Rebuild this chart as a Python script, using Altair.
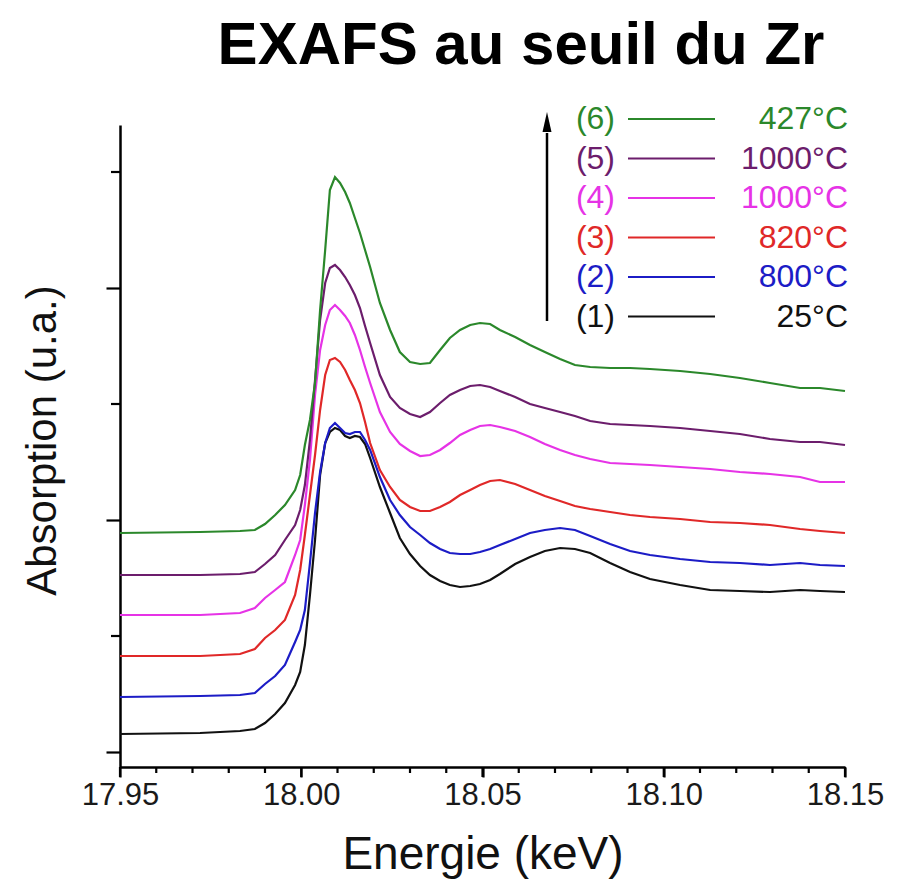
import altair as alt
import pandas as pd

# ---------------- data ----------------
energie_keV = [17.9500, 17.9721, 17.9831, 17.9872, 17.9900, 17.9928, 17.9955, 17.9983,
               17.9997, 18.0010, 18.0024, 18.0038, 18.0052, 18.0066, 18.0079, 18.0093,
               18.0107, 18.0121, 18.0134, 18.0148, 18.0162, 18.0176, 18.0190, 18.0217,
               18.0245, 18.0272, 18.0300, 18.0328, 18.0355, 18.0383, 18.0410, 18.0438,
               18.0466, 18.0493, 18.0521, 18.0548, 18.0590, 18.0631, 18.0672, 18.0714,
               18.0755, 18.0797, 18.0852, 18.0907, 18.0962, 18.1045, 18.1128, 18.1210,
               18.1293, 18.1376, 18.1431, 18.1500]

abs_1 = [0.18, 0.19, 0.21, 0.23, 0.29, 0.38, 0.49, 0.67, 0.80, 1.07, 1.57, 2.12,
         2.77, 3.09, 3.20, 3.24, 3.22, 3.16, 3.14, 3.16, 3.15, 3.08, 2.94, 2.65,
         2.39, 2.14, 1.98, 1.86, 1.77, 1.71, 1.67, 1.65, 1.66, 1.68, 1.72, 1.78,
         1.88, 1.95, 2.01, 2.04, 2.03, 1.99, 1.89, 1.80, 1.73, 1.67, 1.62, 1.61,
         1.60, 1.62, 1.61, 1.60]
abs_2 = [0.55, 0.56, 0.57, 0.59, 0.68, 0.76, 0.87, 1.10, 1.22, 1.42, 1.89, 2.39,
         2.80, 3.09, 3.24, 3.29, 3.24, 3.19, 3.18, 3.20, 3.20, 3.12, 3.02, 2.75,
         2.52, 2.37, 2.25, 2.17, 2.09, 2.03, 1.99, 1.98, 1.98, 2.00, 2.03, 2.07,
         2.13, 2.19, 2.22, 2.24, 2.22, 2.16, 2.08, 2.01, 1.97, 1.93, 1.90, 1.89,
         1.87, 1.89, 1.87, 1.86]
abs_3 = [0.96, 0.96, 0.98, 1.03, 1.14, 1.22, 1.32, 1.57, 1.82, 2.17, 2.57, 2.97,
         3.42, 3.77, 3.92, 3.94, 3.90, 3.82, 3.72, 3.62, 3.49, 3.30, 3.09, 2.82,
         2.65, 2.52, 2.45, 2.41, 2.41, 2.45, 2.50, 2.57, 2.62, 2.67, 2.71, 2.72,
         2.68, 2.62, 2.56, 2.51, 2.46, 2.43, 2.40, 2.37, 2.35, 2.33, 2.30, 2.29,
         2.27, 2.23, 2.21, 2.19]
abs_4 = [1.37, 1.37, 1.39, 1.44, 1.54, 1.62, 1.70, 1.97, 2.12, 2.47, 2.92, 3.57,
         4.02, 4.27, 4.42, 4.47, 4.42, 4.36, 4.29, 4.17, 4.02, 3.85, 3.69, 3.40,
         3.20, 3.08, 3.01, 2.96, 2.97, 3.02, 3.09, 3.17, 3.22, 3.26, 3.27, 3.25,
         3.21, 3.15, 3.08, 3.02, 2.97, 2.93, 2.89, 2.88, 2.87, 2.85, 2.83, 2.80,
         2.78, 2.75, 2.70, 2.70]
abs_5 = [1.77, 1.77, 1.78, 1.80, 1.88, 1.97, 2.12, 2.27, 2.42, 2.67, 3.12, 3.72,
         4.32, 4.69, 4.84, 4.87, 4.82, 4.75, 4.67, 4.57, 4.44, 4.26, 4.09, 3.77,
         3.55, 3.44, 3.38, 3.35, 3.40, 3.49, 3.57, 3.62, 3.66, 3.67, 3.65, 3.61,
         3.55, 3.48, 3.44, 3.40, 3.36, 3.31, 3.28, 3.27, 3.26, 3.24, 3.21, 3.18,
         3.13, 3.10, 3.10, 3.07]
abs_6 = [2.19, 2.20, 2.21, 2.22, 2.28, 2.37, 2.47, 2.62, 2.77, 3.07, 3.32, 3.69,
         4.42, 5.02, 5.62, 5.75, 5.69, 5.60, 5.49, 5.34, 5.19, 5.02, 4.85, 4.49,
         4.22, 4.00, 3.90, 3.88, 3.89, 4.02, 4.14, 4.22, 4.27, 4.29, 4.28, 4.22,
         4.15, 4.07, 4.00, 3.93, 3.87, 3.85, 3.84, 3.84, 3.83, 3.81, 3.78, 3.74,
         3.69, 3.64, 3.64, 3.61]

series_ids = ["1", "2", "3", "4", "5", "6"]
series_labels = ["(1)", "(2)", "(3)", "(4)", "(5)", "(6)"]
temperatures = ["25°C", "800°C", "820°C", "1000°C", "1000°C", "427°C"]
series_colors = ["#111111", "#1c1cc6", "#e02828", "#e633e6", "#6c1d6c", "#2b882b"]

x_major_ticks = [17.95, 18.00, 18.05, 18.10, 18.15]
x_minor_ticks = [17.96, 17.97, 17.98, 17.99, 18.01, 18.02, 18.03, 18.04,
                 18.06, 18.07, 18.08, 18.09, 18.11, 18.12, 18.13, 18.14]
y_major_ticks = [0.0, 2.32, 4.64]
y_minor_ticks = [1.16, 3.48, 5.80]

title_text = "EXAFS au seuil du Zr"
x_title = "Energie (keV)"
y_title = "Absorption (u.a.)"

# ---------------- tables ----------------
curves = [abs_1, abs_2, abs_3, abs_4, abs_5, abs_6]
rows = []
for sid, vals in zip(series_ids, curves):
    for e, a in zip(energie_keV, vals):
        rows.append({"E": e, "A": a, "serie": sid})
df = pd.DataFrame(rows)

legend_df = pd.DataFrame({
    "serie": series_ids,
    "num": series_labels,
    "temp": temperatures,
    "ypx": [-6 + 39.5 * (5 - i) for i in range(6)],
})
xmajor_df = pd.DataFrame({"E": x_major_ticks})
xminor_df = pd.DataFrame({"E": x_minor_ticks})
yminor_df = pd.DataFrame({"A": y_minor_ticks})
one = pd.DataFrame({"k": [0]})

FONT = "Liberation Sans"
color_scale = alt.Scale(domain=series_ids, range=series_colors)
x_scale = alt.Scale(domain=[17.95, 18.15], nice=False, zero=False)
y_scale = alt.Scale(domain=[-0.15, 6.27], nice=False, zero=False)
H = 642

x_axis = alt.Axis(
    values=x_major_ticks, tickSize=10, tickWidth=2.2, tickColor="#000000", format=".2f",
    labelFont=FONT, labelFontSize=31, labelColor="#1a1a1a",
    labelPadding=3, labelOverlap=False, labelFlush=False,
    title=x_title, titleFont=FONT, titleFontSize=46, titleFontWeight="normal",
    titleColor="#111111", titleBaseline="alphabetic", titleY=101,
    grid=False,
)
y_axis = alt.Axis(
    values=y_major_ticks, tickSize=14, tickWidth=2.2, tickColor="#000000", labels=False,
    title=y_title, titleFont=FONT, titleFontSize=42, titleFontWeight="normal",
    titleColor="#111111", titleBaseline="alphabetic", titleAngle=270,
    titleX=-65, titleY=315, titleAlign="center",
    grid=False,
)

lines = alt.Chart(df).mark_line(strokeWidth=2.2).encode(
    x=alt.X("E:Q", scale=x_scale, axis=x_axis),
    y=alt.Y("A:Q", scale=y_scale, axis=y_axis),
    color=alt.Color("serie:N", scale=color_scale, legend=None),
)

leg_num = alt.Chart(legend_df).mark_text(
    font=FONT, fontSize=32, align="right", baseline="middle"
).encode(
    x=alt.value(495),
    y=alt.Y("ypx:Q", scale=None, axis=None),
    text="num:N",
    color=alt.Color("serie:N", scale=color_scale, legend=None),
)
leg_line = alt.Chart(legend_df).mark_rule(strokeWidth=2).encode(
    x=alt.value(508), x2=alt.value(595),
    y=alt.Y("ypx:Q", scale=None, axis=None),
    color=alt.Color("serie:N", scale=color_scale, legend=None),
)
leg_temp = alt.Chart(legend_df).mark_text(
    font=FONT, fontSize=32, align="right", baseline="middle"
).encode(
    x=alt.value(728),
    y=alt.Y("ypx:Q", scale=None, axis=None),
    text="temp:N",
    color=alt.Color("serie:N", scale=color_scale, legend=None),
)

arrow_shaft = alt.Chart(one).mark_rule(strokeWidth=2.5, color="#000000").encode(
    x=alt.value(427), y=alt.value(8), y2=alt.value(196)
)
arrow_head = alt.Chart(one).mark_point(
    shape="M0,-1L0.45,1L-0.45,1Z", filled=True, size=400, color="#000000", opacity=1
).encode(x=alt.value(427), y=alt.value(-3))

title = alt.Chart(one).mark_text(
    text=title_text, font=FONT, fontSize=60, fontWeight="bold",
    align="center", baseline="alphabetic", color="#000000"
).encode(x=alt.value(401), y=alt.value(-61))

# tick marks placed through the shared scales (drawn last, on top)
x_major = alt.Chart(xmajor_df).mark_rule(strokeWidth=2.2, color="#000000", clip=False).encode(
    x=alt.X("E:Q", scale=x_scale), y=alt.value(H), y2=alt.value(H + 10)
)
x_minor = alt.Chart(xminor_df).mark_rule(strokeWidth=2.2, color="#000000", clip=False).encode(
    x=alt.X("E:Q", scale=x_scale), y=alt.value(H), y2=alt.value(H + 6)
)
y_minor = alt.Chart(yminor_df).mark_rule(strokeWidth=2.2, color="#000000", clip=False).encode(
    y=alt.Y("A:Q", scale=y_scale), x=alt.value(-9), x2=alt.value(0)
)

chart = alt.layer(
    lines, leg_line, leg_num, leg_temp, arrow_shaft, arrow_head, title,
    x_major, x_minor, y_minor
).properties(
    width=725, height=H,
    padding={"left": 120, "top": 125, "right": 65, "bottom": 113},
    autosize=alt.AutoSizeParams(type="none"),
    background="white",
).configure_view(stroke=None).configure_axis(
    domainColor="#000000", domainWidth=2.5,
)

chart.save("out.html", embed_options={"renderer": "svg", "actions": False})
